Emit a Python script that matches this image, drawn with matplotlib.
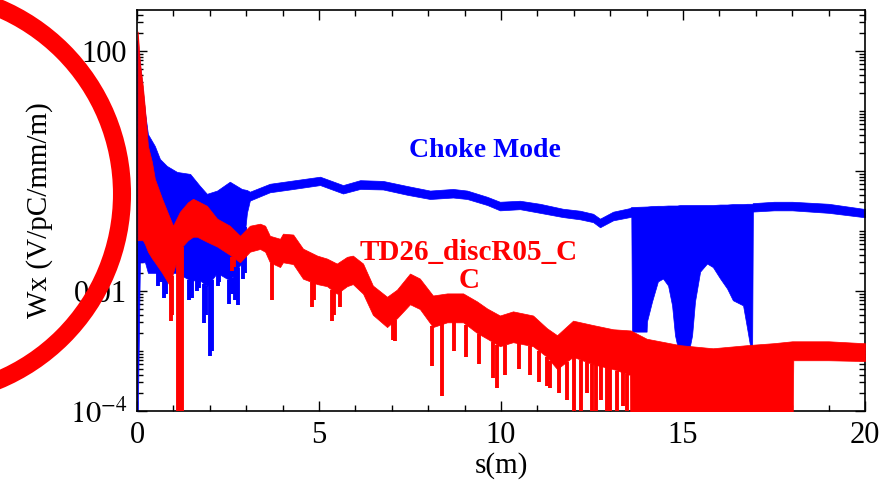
import numpy as np
import matplotlib
matplotlib.use("Agg")
from matplotlib import pyplot as plt
from matplotlib.patches import Ellipse
from matplotlib.ticker import FixedLocator, FixedFormatter, LogLocator, NullFormatter, MultipleLocator

# Choke Mode wake: upper / lower envelope of the dense oscillation
blue_s = [0.0, 0.08, 0.22, 0.30, 0.49, 0.63, 0.82, 1.10, 1.46, 1.73, 1.92, 2.20, 2.55, 2.88, 3.02,
          3.10, 3.65, 4.20, 5.03, 5.66, 6.13, 6.76, 7.42, 8.05, 8.68, 9.07, 9.62, 9.97, 10.52,
          11.07, 11.70, 12.17, 12.53, 12.72, 13.08, 13.54, 13.58, 13.60, 14.00, 14.01, 14.15,
          14.31, 14.45, 14.59, 14.70, 14.78, 14.84, 14.92, 15.19, 15.25, 15.33, 15.47, 15.66,
          15.82, 16.02, 16.21, 16.37, 16.65, 16.76, 16.84, 16.90, 16.92, 17.50, 18.00, 19.00,
          19.95, 20.0]
blue_hi = [150, 60, 9.5, 4.1, 2.6, 1.58, 1.21, 0.96, 0.89, 0.56, 0.415, 0.47, 0.66, 0.50, 0.48,
           0.45, 0.61, 0.68, 0.80, 0.58, 0.70, 0.68, 0.56, 0.47, 0.50, 0.47, 0.37, 0.306, 0.318,
           0.283, 0.234, 0.217, 0.193, 0.16, 0.209, 0.24, 0.25, 0.25, 0.255, 0.255, 0.26,
           0.262, 0.262, 0.265, 0.265, 0.265, 0.265, 0.27, 0.27, 0.27, 0.27, 0.27, 0.27,
           0.27, 0.275, 0.275, 0.28, 0.28, 0.283, 0.283, 0.283, 0.29, 0.306, 0.306, 0.283,
           0.234, 0.234]
blue_lo = [1e-5, 0.03, 0.03, 0.02, 0.02, 0.02, 0.02, 0.02, 0.015, 0.015, 0.012, 0.02, 0.015, 0.03, 0.2,
           0.32, 0.44, 0.49, 0.58, 0.42, 0.50, 0.49, 0.40, 0.34, 0.36, 0.34, 0.27, 0.22, 0.23,
           0.20, 0.17, 0.156, 0.14, 0.115, 0.15, 0.17, 0.17, 0.0021, 0.0021, 0.0031, 0.0067,
           0.0144, 0.0161, 0.0123, 0.00575, 0.00183, 0.00125, 0.0012, 0.0012, 0.00183, 0.0067, 0.021, 0.0286,
           0.025, 0.0161, 0.011, 0.007, 0.00575, 0.0024, 0.00125, 0.00125, 0.21, 0.22, 0.22, 0.20,
           0.17, 0.17]
blue_spike_s = [0.58, 0.65, 0.74, 0.80, 1.42, 1.50, 1.64, 1.70, 1.84, 1.90, 2.00, 2.06, 2.22, 2.26,
                2.52, 2.60, 2.70, 2.78, 2.92, 2.98]
blue_spike_lo = [0.0123, 0.014, 0.0075, 0.009, 0.007, 0.0075, 0.0098, 0.011, 0.0029, 0.004, 0.00082, 0.001,
                 0.0123, 0.014, 0.006, 0.009, 0.007, 0.00575, 0.0161, 0.02]

# TD26_discR05_CC wake
red_s = [0.02, 0.08, 0.16, 0.22, 0.30, 0.41, 0.49, 0.69, 0.91, 0.99, 1.18, 1.40, 1.54, 1.65, 1.92,
         2.20, 2.55, 2.83, 3.10, 3.38, 3.52, 3.65, 3.93, 4.01, 4.29, 4.56, 4.95, 5.22, 5.49, 5.77,
         5.93, 6.21, 6.48, 6.87, 7.14, 7.50, 7.77, 8.13, 8.52, 8.96, 9.34, 9.62, 9.97, 10.33,
         10.88, 11.26, 11.54, 11.98, 12.53, 13.08, 13.54, 13.56, 14.00, 14.92, 15.82, 16.76,
         17.50, 18.00, 18.03, 19.00, 19.95, 20.0]
red_hi = [210, 64, 26, 10.7, 2.6, 1.41, 0.74, 0.343, 0.16, 0.122, 0.209, 0.30, 0.343, 0.318, 0.262,
          0.16, 0.122, 0.083, 0.122, 0.132, 0.122, 0.083, 0.074, 0.09, 0.087, 0.0507, 0.0388, 0.0346, 0.0286, 0.037,
          0.0388, 0.0286, 0.0123, 0.008, 0.0105, 0.0195, 0.0161, 0.0084, 0.0091, 0.0091, 0.0067, 0.0051, 0.0039, 0.00457,
          0.0039, 0.0024, 0.00183, 0.0032, 0.0027, 0.0023, 0.0022, 0.0022, 0.0016, 0.00125, 0.00111, 0.00125,
          0.00135, 0.00145, 0.00145, 0.00145, 0.00135, 0.00135]
red_lo = [0.07, 0.07, 0.07, 0.06, 0.045, 0.035, 0.03, 0.02, 0.012, 0.02, 0.05, 0.07, 0.08, 0.08, 0.066,
          0.055, 0.04, 0.03, 0.045, 0.05, 0.045, 0.03, 0.025, 0.03, 0.028, 0.016, 0.013, 0.012, 0.009, 0.012,
          0.013, 0.009, 0.004, 0.0025, 0.0035, 0.006, 0.005, 0.0025, 0.003, 0.003, 0.002, 0.0016, 0.0012, 0.0014,
          0.0012, 0.0008, 0.0005, 0.0008, 0.0006, 0.0005, 0.0004, 1e-5, 1e-5, 1e-5, 1e-5, 1e-5,
          1e-5, 1e-5, 0.0007, 0.0007, 0.00068, 0.00068]
red_spike_s = [0.93, 0.97, 1.14, 1.19, 1.24, 2.62, 2.66, 3.71, 4.81, 4.86, 5.36, 5.40, 5.58, 7.03, 7.09,
               8.10, 8.38, 8.70, 9.05, 9.40, 9.78, 9.89, 10.10, 10.50, 10.80, 11.05, 11.26, 11.35,
               11.60, 11.80, 12.00, 12.20, 12.35, 12.50, 12.60, 12.75, 12.90, 13.00, 13.20, 13.35, 13.45]
red_spike_lo = [0.0031, 0.004, 1e-5, 1e-5, 1e-5, 0.0219, 0.025, 0.007, 0.0055, 0.007, 0.0032, 0.004, 0.0055, 0.0015, 0.00145,
                0.00056, 0.000177, 0.001, 0.0008, 0.0006, 0.00035, 0.00024, 0.0004, 0.0005, 0.0004, 0.0003, 0.00026, 0.00024,
                0.0002, 0.00015, 1e-5, 1e-5, 0.0002, 1e-5, 1e-5, 0.00015, 1e-5, 1e-5, 1e-5, 0.00012, 1e-5]

BLUE = "#0000ff"
RED = "#ff0000"

plt.rcParams["font.family"] = ["Liberation Serif", "DejaVu Serif"]
plt.rcParams["mathtext.fontset"] = "stix"

fig = plt.figure(figsize=(8.95, 4.96), dpi=100)
ax = fig.add_axes([137 / 895, 1 - 411 / 496, (865 - 137) / 895, (411 - 10) / 496])
ax.set_yscale("log")


def spike_top(xs, env_s, env):
    # spikes hang from the lower edge of the band
    return 10 ** np.interp(xs, env_s, np.log10(env))


ax.fill_between(blue_s, blue_lo, blue_hi, color=BLUE, lw=0.5, zorder=2)
ax.vlines(blue_spike_s, blue_spike_lo, spike_top(blue_spike_s, blue_s, blue_lo),
          color=BLUE, lw=2.8, zorder=2)
ax.fill_between(red_s, red_lo, red_hi, color=RED, lw=0.5, zorder=3)
ax.vlines(red_spike_s, red_spike_lo, spike_top(red_spike_s, red_s, red_lo),
          color=RED, lw=2.8, zorder=3)

ax.set_xlim(0, 20)
ax.set_ylim(1e-4, 10 ** 2.68)

ax.xaxis.set_major_locator(MultipleLocator(5))
ax.xaxis.set_minor_locator(MultipleLocator(1))
ax.yaxis.set_major_locator(FixedLocator([1e-4, 1e-2, 1, 100]))
ax.yaxis.set_major_formatter(FixedFormatter(["$10^{-4}$", "0.01", "1", "100"]))
ax.yaxis.set_minor_locator(LogLocator(base=10, subs=np.arange(1, 10), numticks=20))
ax.yaxis.set_minor_formatter(NullFormatter())

ax.tick_params(which="both", direction="in", top=True, right=True, labelsize=22, width=1)
ax.tick_params(which="major", length=7)
ax.tick_params(which="minor", length=4)
ax.tick_params(axis="y", pad=7)
ax.tick_params(axis="x", pad=7)
for sp in ax.spines.values():
    sp.set_linewidth(1.2)

ax.set_xlabel("s(m)", fontsize=21, labelpad=2)
ax.set_ylabel("Wx (V/pC/mm/m)", fontsize=21, labelpad=12)

ax.text(0.478, 0.65, "Choke Mode", transform=ax.transAxes, color=BLUE, fontsize=20,
        fontweight="bold", ha="center", va="center")
ax.text(0.456, 0.36, "TD26_discR05_C\nC", transform=ax.transAxes, color=RED, fontsize=21,
        fontweight="bold", ha="center", va="center", linespacing=1.05)

# the red highlight ring over the axis label
ring = Ellipse((-80 / 895, 1 - 194 / 496), 2 * 202 / 895, 2 * 202 / 496,
               transform=fig.transFigure, fill=False, edgecolor=RED, lw=13, zorder=10)
fig.patches.append(ring)

fig.savefig("out.png", dpi=100)
